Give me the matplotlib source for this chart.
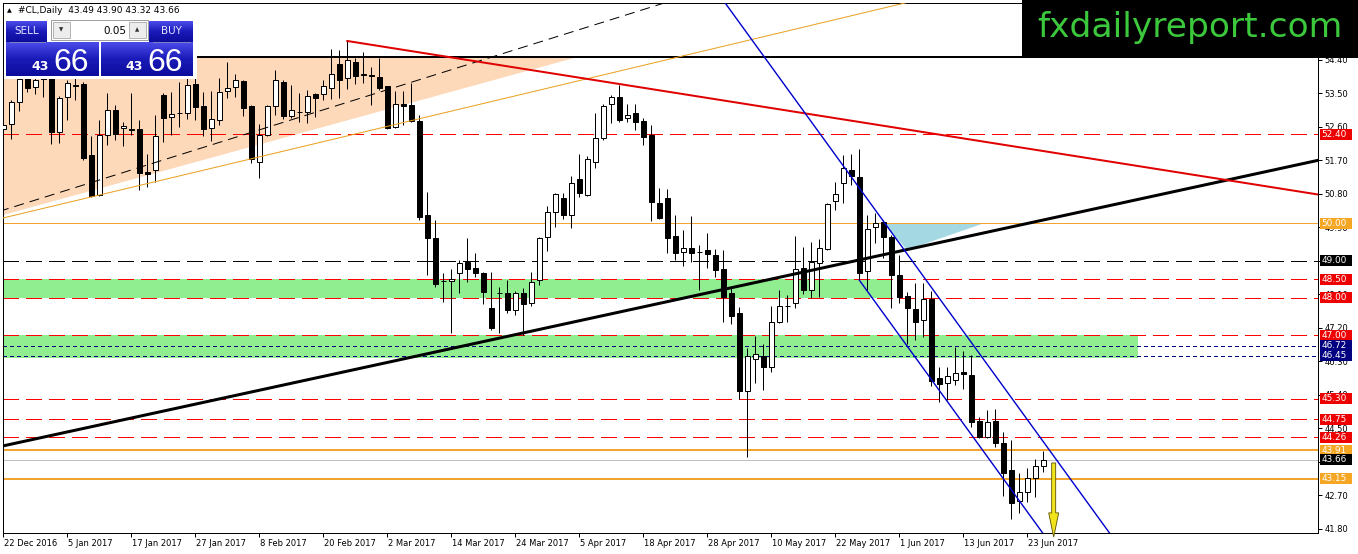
import matplotlib
matplotlib.use("Agg")
import matplotlib.pyplot as plt
import matplotlib.transforms as mtransforms
from matplotlib.patches import Rectangle, Polygon, FancyArrow
from matplotlib.colors import LinearSegmentedColormap
import numpy as np

plt.rcParams["font.family"] = ["DejaVu Sans"]

# ============================================================
# 1- DATOS (velas diarias #CL, 22 Dec 2016 - 28 Jun 2017)
# ============================================================
open_ = [52.53, 52.67, 53.26, 53.93, 53.66, 53.90, 53.90, 52.45, 53.39, 53.72,
         53.74, 51.84, 50.76, 52.37, 53.04, 52.56, 52.53, 52.53, 51.37, 51.43,
         53.45, 52.86, 52.97, 52.96, 53.74, 53.15, 52.56, 52.78, 53.55, 53.66,
         53.82, 53.15, 51.65, 52.37, 53.15, 53.80, 52.88, 53.00, 52.99, 53.47,
         53.47, 53.63, 54.28, 53.90, 54.33, 54.01, 53.99, 53.93, 53.69, 52.59,
         53.20, 53.18, 52.75, 50.23, 49.61, 48.46, 48.45, 48.67, 48.96, 48.80,
         48.67, 47.73, 48.14, 48.13, 47.68, 48.13, 47.86, 48.48, 49.64, 50.31,
         50.68, 50.23, 51.19, 50.76, 51.65, 52.29, 53.20, 53.39, 52.83, 52.96,
         52.75, 52.37, 50.55, 50.68, 49.66, 49.23, 49.34, 49.24, 49.29, 49.15,
         48.78, 48.13, 47.60, 45.50, 46.36, 46.44, 46.15, 47.35, 47.79, 47.86,
         48.80, 48.21, 48.94, 49.31, 50.60, 51.08, 51.43, 51.25, 48.72, 49.90,
         50.04, 49.63, 48.62, 48.05, 47.70, 47.41, 47.97, 45.85, 45.72, 45.80,
         46.01, 45.93, 44.70, 44.27, 44.70, 44.11, 43.38, 42.55, 42.79, 43.17,
         43.49]
high = [53.31, 53.31, 53.98, 53.98, 53.93, 53.93, 53.98, 53.42, 53.85, 53.93,
        53.80, 52.35, 52.78, 53.50, 53.18, 52.72, 53.50, 52.78, 51.86, 52.91,
        53.50, 53.53, 53.80, 53.90, 54.04, 53.53, 53.55, 53.90, 54.33, 54.01,
        53.85, 53.17, 52.67, 53.18, 54.12, 53.85, 53.71, 53.50, 53.58, 53.50,
        53.85, 54.68, 54.65, 54.90, 54.44, 54.60, 54.20, 54.44, 53.70, 53.55,
        53.55, 53.77, 52.91, 50.84, 50.09, 48.67, 48.78, 49.02, 49.61, 49.21,
        48.70, 48.70, 48.29, 48.48, 48.19, 48.27, 48.70, 49.63, 50.47, 50.82,
        50.82, 51.27, 51.86, 51.81, 52.96, 53.20, 53.45, 53.71, 53.20, 53.20,
        52.83, 52.64, 50.95, 50.92, 50.23, 49.82, 50.20, 49.42, 49.74, 49.31,
        49.29, 48.27, 47.76, 46.66, 46.98, 46.76, 47.78, 48.21, 48.08, 49.66,
        49.37, 49.50, 49.58, 50.55, 51.11, 51.84, 51.86, 52.00, 50.23, 50.28,
        50.09, 49.69, 49.15, 48.16, 48.40, 48.40, 48.19, 46.15, 46.15, 46.68,
        46.58, 46.47, 44.80, 44.99, 45.02, 44.40, 44.19, 43.30, 43.44, 43.68,
        43.90]
low = [52.08, 52.27, 53.02, 53.53, 53.47, 53.39, 52.13, 52.16, 52.78, 53.31,
       51.70, 50.71, 50.74, 52.10, 52.24, 52.08, 52.37, 50.90, 50.98, 51.11,
       52.18, 52.37, 52.59, 52.80, 52.78, 52.35, 52.21, 52.64, 53.37, 53.39,
       52.88, 51.62, 51.22, 52.36, 52.91, 52.80, 52.83, 52.72, 52.69, 52.86,
       53.31, 53.34, 53.37, 53.60, 53.74, 53.77, 53.18, 53.58, 52.53, 52.56,
       52.64, 52.73, 50.09, 48.62, 48.29, 47.89, 47.06, 48.13, 48.43, 48.56,
       47.84, 47.14, 47.06, 47.60, 47.54, 47.00, 47.78, 48.35, 49.26, 49.90,
       50.12, 49.88, 50.71, 50.74, 51.49, 52.25, 52.69, 52.72, 52.72, 52.51,
       52.10, 50.06, 50.12, 49.21, 49.02, 48.86, 48.96, 48.21, 48.80, 48.56,
       47.35, 47.30, 45.29, 43.73, 45.72, 45.53, 46.01, 47.33, 47.35, 47.73,
       48.11, 48.00, 48.03, 49.29, 50.36, 50.55, 51.03, 48.48, 48.21, 49.47,
       49.07, 47.73, 47.86, 46.76, 46.87, 46.95, 45.64, 45.21, 45.26, 45.66,
       45.56, 44.54, 44.24, 44.24, 44.00, 42.68, 42.07, 42.23, 42.52, 42.66,
       43.32]
close = [52.64, 53.26, 53.88, 53.63, 53.85, 53.88, 52.45, 53.37, 53.77, 53.69,
         51.76, 50.74, 52.37, 53.04, 52.40, 52.61, 52.52, 51.35, 51.34, 52.35,
         52.83, 52.94, 52.96, 53.71, 53.12, 52.53, 52.80, 53.53, 53.63, 53.85,
         53.10, 51.73, 52.37, 53.15, 53.85, 52.88, 53.04, 52.99, 53.42, 53.37,
         53.69, 54.01, 53.85, 54.39, 53.96, 54.00, 53.97, 53.63, 52.56, 53.20,
         53.15, 52.75, 50.17, 49.61, 48.37, 48.45, 48.51, 48.94, 48.78, 48.67,
         48.16, 47.19, 48.13, 47.68, 48.13, 47.84, 48.43, 49.61, 50.31, 50.79,
         50.23, 51.08, 50.82, 51.73, 52.29, 53.15, 53.39, 52.78, 52.91, 52.72,
         52.32, 50.57, 50.15, 49.61, 49.21, 49.34, 49.21, 49.23, 49.18, 48.75,
         48.03, 47.51, 45.50, 46.44, 46.50, 46.15, 47.35, 47.78, 47.78, 48.78,
         48.21, 48.96, 49.34, 50.52, 50.79, 51.49, 51.27, 48.67, 49.85, 50.01,
         49.63, 48.62, 48.03, 47.73, 47.35, 47.97, 45.77, 45.69, 45.90, 45.98,
         45.96, 44.67, 44.27, 44.67, 44.11, 43.30, 42.50, 42.79, 43.17, 43.49,
         43.66]

fechas = ["22 Dec 2016", "5 Jan 2017", "17 Jan 2017", "27 Jan 2017", "8 Feb 2017",
          "20 Feb 2017", "2 Mar 2017", "14 Mar 2017", "24 Mar 2017", "5 Apr 2017",
          "18 Apr 2017", "28 Apr 2017", "10 May 2017", "22 May 2017", "1 Jun 2017",
          "13 Jun 2017", "23 Jun 2017"]
precios_eje = [54.40, 53.50, 52.60, 51.70, 50.80, 49.90, 49.00, 48.10, 47.20,
               46.30, 45.40, 44.50, 43.60, 42.70, 41.80]

# niveles horizontales y su tipo
niveles = [52.40, 50.00, 49.00, 48.50, 48.00, 47.00, 46.72, 46.45,
           45.30, 44.75, 44.26, 43.91, 43.66, 43.15]
tipo_nivel = ["rojo", "naranja_fino", "negro", "rojo", "rojo", "rojo", "azul", "azul",
              "rojo", "rojo", "rojo", "naranja", "precio", "naranja"]

# zonas verdes (precio inferior, superior, ultima vela)
zonas_verdes = [(48.00, 48.50, 111.1), (46.40, 47.00, 141.9)]

# lineas de tendencia: (vela, precio) de los dos puntos de anclaje
tend_negra = [(0, 44.03), (164, 51.68)]
tend_roja = [(43, 54.90), (164.3, 50.78)]
canal_sup = [(103.3, 52.05), (132.1, 43.52)]
canal_inf_inicio = (107, 48.48)
tri_punteada = [(0, 50.36), (100, 57.09)]
tri_naranja = [(0, 50.15), (100, 55.27)]
techo = 54.47
triangulo_salmon = [(-0.5, 54.47), (71.8, 54.47), (-0.5, 50.20)]
triangulo_celeste = [(110.1, 50.00), (122.5, 50.00), (112.96, 49.29)]

ultima = {"o": 43.49, "h": 43.90, "l": 43.32, "c": 43.66}

# ============================================================
# 2- GRAFICO
# ============================================================
W, H = 1358, 554
fig = plt.figure(figsize=(W / 100, H / 100), dpi=100)
ax = fig.add_axes([3 / W, 21 / H, 1315 / W, 530 / H])
XMIN, XMAX = -0.04, 164.34
YMIN, YMAX = 41.69, 55.92
PX = 0.72  # un pixel en puntos

n = len(close)
x = np.arange(n)


def recta(p, xs):
    (x1, y1), (x2, y2) = p
    m = (y2 - y1) / (x2 - x1)
    return [y1 + m * (xx - x1) for xx in xs]


# fondos
ax.add_patch(Polygon(triangulo_salmon, closed=True, fc="#fdd9b9", ec="none", zorder=0.5))
for lo, hi, fin in zonas_verdes:
    ax.add_patch(Rectangle((XMIN - 1, lo), fin - XMIN + 1, hi - lo, fc="#90ee90", ec="none", zorder=0.6))
ax.add_patch(Polygon(triangulo_celeste, closed=True, fc="#a4d8e2", ec="none", zorder=0.7))

# niveles horizontales (lineas nitidas de 1 px, como en MT4)
for nivel, t in zip(niveles, tipo_nivel):
    if t == "rojo":
        estilo = dict(color="#ff0000", lw=PX, ls=(0, (16, 8)))
    elif t == "negro":
        estilo = dict(color="black", lw=PX, ls=(0, (16, 7)))
    elif t == "azul":
        estilo = dict(color="#000080", lw=PX, ls=(0, (3, 3)))
    elif t == "naranja_fino":
        estilo = dict(color="#f2a431", lw=PX)
    elif t == "naranja":
        estilo = dict(color="#f2a431", lw=2 * PX)
    else:
        estilo = dict(color="#c0c0c0", lw=PX)
    ax.axhline(nivel, zorder=1, antialiased=False, **estilo)
ax.axhline(techo, color="black", lw=2 * PX, zorder=1, antialiased=False)

# velas
o = np.array(open_)
c = np.array(close)
alcista = c > o
ax.vlines(x, low, high, color="black", lw=PX, zorder=3)
cuerpo_bajo = np.minimum(o, c)
cuerpo_alto = np.maximum(np.abs(c - o), 0.012)
ax.bar(x, cuerpo_alto, 0.6, bottom=cuerpo_bajo,
       color=np.where(alcista, "white", "black"), edgecolor="black", lw=PX, zorder=4)

# lineas de tendencia
xs = [XMIN - 5, XMAX + 5]
ax.plot(xs, recta(tri_punteada, xs), color="black", lw=PX, ls=(0, (10, 6)), zorder=5)
ax.plot(xs, recta(tri_naranja, xs), color="#eaa020", lw=PX, zorder=5)
ax.plot(xs, recta(tend_negra, xs), color="black", lw=3 * PX, zorder=5)
xr = [tend_roja[0][0], XMAX + 5]
ax.plot(xr, recta(tend_roja, xr), color="#e00000", lw=2 * PX, zorder=5)
xc = [80, XMAX + 5]
ax.plot(xc, recta(canal_sup, xc), color="#0000cc", lw=1.4 * PX, zorder=5)
pend = (canal_sup[1][1] - canal_sup[0][1]) / (canal_sup[1][0] - canal_sup[0][0])
xi = [canal_inf_inicio[0], XMAX + 5]
ax.plot(xi, [canal_inf_inicio[1], canal_inf_inicio[1] + pend * (xi[1] - xi[0])],
        color="#0000cc", lw=1.4 * PX, zorder=5)

# flecha amarilla
ax.add_patch(FancyArrow(131.3, 43.57, 0, -1.99, width=0.5, head_width=1.25, head_length=0.65,
                        length_includes_head=True, fc="#f2e41c", ec="#5a5000", lw=0.6,
                        clip_on=False, zorder=6))

ax.set_xlim(XMIN, XMAX)
ax.set_ylim(YMIN, YMAX)

# ejes
for s in ax.spines.values():
    s.set_linewidth(PX)
    s.set_color("black")
ax.yaxis.tick_right()
ax.set_yticks(precios_eje)
ax.set_yticklabels([f"{p:.2f}" for p in precios_eje])
ax.set_xticks(np.arange(len(fechas)) * 8)
ax.set_xticklabels(fechas)
ax.tick_params(axis="both", length=3, width=PX, labelsize=6, pad=1.5, colors="black")
desp = mtransforms.ScaledTranslation(1 / 100, 0, fig.dpi_scale_trans)
for lab in ax.get_xticklabels():
    lab.set_horizontalalignment("left")
    lab.set_transform(lab.get_transform() + desp)

# etiquetas de precio a la derecha
colores_etq = {"rojo": "#ee0000", "negro": "black", "azul": "#000080",
               "naranja_fino": "#f5a623", "naranja": "#f5a623", "precio": "black"}
tr = mtransforms.blended_transform_factory(ax.transAxes, ax.transData)
x0 = 2 / 1315
ancho = 32 / 1315
alto = 11 * (YMAX - YMIN) / 530
for nivel, t in zip(niveles, tipo_nivel):
    ax.add_patch(Rectangle((1 + x0, nivel - alto / 2), ancho, alto, transform=tr,
                           fc=colores_etq[t], ec="none", clip_on=False, zorder=7))
    ax.text(1 + x0 + 1.5 / 1315, nivel, f"{nivel:.2f}", transform=tr, fontsize=6.4,
            color="white", va="center", ha="left", clip_on=False, zorder=8)

# ============================================================
# 3- PANEL DE OPERACIONES Y LOGO (en pixeles)
# ============================================================
axo = fig.add_axes([0, 0, 1, 1], zorder=10)
axo.set_xlim(0, W)
axo.set_ylim(H, 0)
axo.axis("off")
axo.patch.set_alpha(0)

azul = LinearSegmentedColormap.from_list("azul", ["#4c4cea", "#1a1ab8", "#0c0c9c"])
grad = np.linspace(0, 1, 64).reshape(-1, 1)


def caja_azul(x1, y1, x2, y2):
    axo.imshow(grad, cmap=azul, extent=(x1, x2, y2, y1), aspect="auto", zorder=2)


axo.add_patch(Rectangle((4, 19), 193, 60, fc="white", ec="none", zorder=1))
caja_azul(6, 21, 47, 42)
caja_azul(149, 21, 193, 42)
caja_azul(6, 42, 99, 76)
caja_azul(101, 42, 193, 76)
axo.plot([10, 45], [42, 42], color="#8080c0", lw=PX, zorder=3)
axo.plot([153, 190], [42, 42], color="#8080c0", lw=PX, zorder=3)
axo.text(27, 31.5, "SELL", fontsize=7.5, color="#e4e4ff", ha="center", va="center", zorder=4)
axo.text(171, 31.5, "BUY", fontsize=7.5, color="#e4e4ff", ha="center", va="center", zorder=4)
# selector de volumen
axo.add_patch(Rectangle((51, 20), 97, 20, fc="white", ec="#a0a0a0", lw=PX, zorder=2))
axo.add_patch(Rectangle((53, 22), 17, 16, fc="#ededed", ec="#b4b4b4", lw=PX, zorder=3))
axo.add_patch(Rectangle((129, 22), 17, 16, fc="#ededed", ec="#b4b4b4", lw=PX, zorder=3))
axo.text(61.5, 30, "▼", fontsize=4, color="#303030", ha="center", va="center", zorder=4)
axo.text(137.5, 30, "▲", fontsize=4, color="#303030", ha="center", va="center", zorder=4)
axo.text(126, 30.5, "0.05", fontsize=7.5, color="black", ha="right", va="center", zorder=4)
# precios
for xb, xg in [(49, 53), (143, 147)]:
    axo.text(xb, 70.5, "43", fontsize=9, fontweight="bold", color="white",
             ha="right", va="baseline", zorder=4)
    axo.text(xg, 71, "66", fontsize=23, color="white", ha="left", va="baseline",
             family="Liberation Sans", zorder=4)
# cabecera
axo.text(7, 10.5, "▲", fontsize=4.5, color="black", ha="left", va="center", zorder=4)
axo.text(18, 10.5, "#CL,Daily  {:.2f} {:.2f} {:.2f} {:.2f}".format(
    ultima["o"], ultima["h"], ultima["l"], ultima["c"]),
    fontsize=6.5, color="black", ha="left", va="center", zorder=4)

# logo
axo.add_patch(Rectangle((1022, 0), W - 1022, 58, fc="black", ec="none", zorder=5))
axo.text(1190, 37, "fxdailyreport.com", fontsize=24.8, color="#3cc83c",
         ha="center", va="baseline", zorder=6)

fig.savefig("out.png", dpi=100)
